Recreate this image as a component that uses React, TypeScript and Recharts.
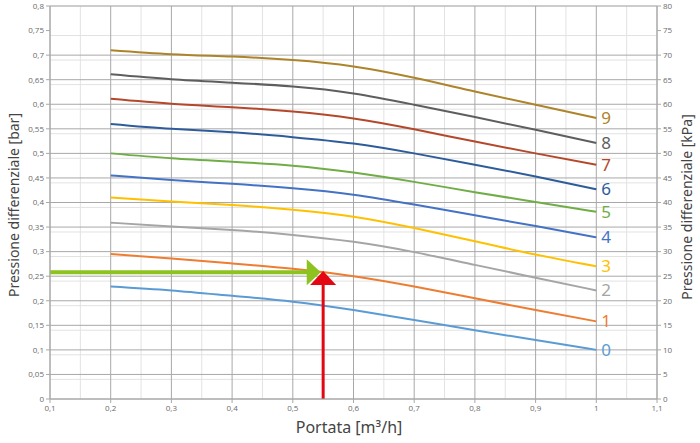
import {
  LineChart,
  Line,
  XAxis,
  YAxis,
  CartesianGrid,
  ReferenceLine,
  ReferenceDot,
} from "recharts";

// portata [m3/h]
const FLOW = [0.2, 0.3, 0.4, 0.5, 0.6, 0.7, 0.8, 0.9, 1.0];

// pressione differenziale [bar] per velocità 0..9
const SPEED_0 = [0.229, 0.221, 0.21, 0.198, 0.181, 0.161, 0.14, 0.12, 0.1];
const SPEED_1 = [0.295, 0.286, 0.276, 0.265, 0.25, 0.229, 0.205, 0.181, 0.158];
const SPEED_2 = [0.359, 0.351, 0.344, 0.334, 0.32, 0.299, 0.273, 0.247, 0.221];
const SPEED_3 = [0.41, 0.402, 0.395, 0.385, 0.371, 0.348, 0.321, 0.294, 0.27];
const SPEED_4 = [0.455, 0.446, 0.438, 0.429, 0.416, 0.396, 0.374, 0.352, 0.329];
const SPEED_5 = [0.5, 0.49, 0.483, 0.475, 0.461, 0.442, 0.421, 0.401, 0.381];
const SPEED_6 = [0.56, 0.55, 0.543, 0.533, 0.52, 0.5, 0.477, 0.453, 0.427];
const SPEED_7 = [0.611, 0.601, 0.594, 0.585, 0.571, 0.549, 0.524, 0.5, 0.477];
const SPEED_8 = [0.661, 0.651, 0.644, 0.636, 0.622, 0.599, 0.574, 0.548, 0.521];
const SPEED_9 = [0.71, 0.702, 0.697, 0.69, 0.677, 0.654, 0.626, 0.599, 0.572];

const SPEED_LABELS = ["0", "1", "2", "3", "4", "5", "6", "7", "8", "9"];
const SPEED_COLORS = [
  "#5B9BD5",
  "#ED7D31",
  "#A5A5A5",
  "#FFC000",
  "#4472C4",
  "#70AD47",
  "#2E5C9A",
  "#B5482A",
  "#5E5E5E",
  "#AD8429",
];
const SPEEDS = [
  SPEED_0, SPEED_1, SPEED_2, SPEED_3, SPEED_4,
  SPEED_5, SPEED_6, SPEED_7, SPEED_8, SPEED_9,
];

// punto di lavoro (esempio)
const WORK_FLOW = 0.55;
const WORK_PRESSURE = 0.258;

const X_TICKS = [0.1, 0.2, 0.3, 0.4, 0.5, 0.6, 0.7, 0.8, 0.9, 1.0, 1.1];
const X_MINOR = [0.15, 0.25, 0.35, 0.45, 0.55, 0.65, 0.75, 0.85, 0.95, 1.05];
const Y_TICKS = [
  0, 0.05, 0.1, 0.15, 0.2, 0.25, 0.3, 0.35, 0.4, 0.45, 0.5, 0.55, 0.6, 0.65,
  0.7, 0.75, 0.8,
];
const KPA_TICKS = [0, 5, 10, 15, 20, 25, 30, 35, 40, 45, 50, 55, 60, 65, 70, 75, 80];

const Y_MINOR: number[] = [];
for (let i = 0; i <= 80; i++) Y_MINOR.push(i / 100);

const chartData = FLOW.map((x, i) => {
  const row: Record<string, number> = { x };
  SPEEDS.forEach((s, k) => {
    row[`s${k}`] = s[i];
  });
  return row;
});

const fmt = (v: number) => String(Math.round(v * 100) / 100).replace(".", ",");

const tickStyle = { fontSize: 8, fill: "#6b6b6b", fontFamily: "Open Sans" };
const titleStyle: React.CSSProperties = {
  position: "absolute",
  fontFamily: "Noto Sans",
  fontSize: 14,
  color: "#444",
  whiteSpace: "nowrap",
};

export default function App() {
  return (
    <div style={{ position: "absolute", left: 0, top: 0, width: 700, height: 443, background: "#fff" }}>
      <LineChart
        width={700}
        height={443}
        data={chartData}
        margin={{ top: 6, right: 0, bottom: 0, left: 0 }}
      >
        <CartesianGrid
          yAxisId="bar"
          stroke="#e2e2e2"
          strokeWidth={1}
          horizontalValues={Y_MINOR}
          verticalValues={X_MINOR}
        />
        <CartesianGrid
          yAxisId="bar"
          stroke="#a8a8a8"
          strokeWidth={1}
          horizontalValues={Y_TICKS}
          verticalValues={X_TICKS}
        />
        <XAxis
          dataKey="x"
          type="number"
          domain={[0.1, 1.1]}
          ticks={X_TICKS}
          tickFormatter={fmt}
          allowDataOverflow
          height={44}
          tick={tickStyle}
          axisLine={{ stroke: "#a8a8a8" }}
          tickLine={{ stroke: "#a8a8a8" }}
          tickSize={4}
        />
        <YAxis
          yAxisId="bar"
          type="number"
          domain={[0, 0.8]}
          ticks={Y_TICKS}
          tickFormatter={fmt}
          allowDataOverflow
          width={50}
          tick={tickStyle}
          axisLine={{ stroke: "#a8a8a8" }}
          tickLine={{ stroke: "#a8a8a8" }}
          tickSize={4}
        />
        <YAxis
          yAxisId="kpa"
          orientation="right"
          type="number"
          domain={[0, 80]}
          ticks={KPA_TICKS}
          allowDataOverflow
          width={43}
          tick={tickStyle}
          axisLine={{ stroke: "#a8a8a8" }}
          tickLine={{ stroke: "#a8a8a8" }}
          tickSize={4}
        />
        {SPEEDS.map((_, k) => (
          <Line
            key={k}
            yAxisId="bar"
            dataKey={`s${k}`}
            type="natural"
            stroke={SPEED_COLORS[k]}
            strokeWidth={2}
            dot={false}
            isAnimationActive={false}
            label={(p: any) =>
              p.index === FLOW.length - 1 ? (
                <text
                  key={`l${k}`}
                  x={p.x + 5}
                  y={p.y + 6}
                  fontSize={17}
                  fontFamily="Noto Sans"
                  fill={SPEED_COLORS[k]}
                >
                  {SPEED_LABELS[k]}
                </text>
              ) : (
                <g key={`l${k}-${p.index}`} />
              )
            }
          />
        ))}
        <ReferenceLine
          yAxisId="bar"
          segment={[
            { x: 0.1, y: WORK_PRESSURE },
            { x: 0.525, y: WORK_PRESSURE },
          ]}
          stroke="#8DC21F"
          strokeWidth={4}
          ifOverflow="visible"
        />
        <ReferenceLine
          yAxisId="bar"
          segment={[
            { x: WORK_FLOW, y: 0 },
            { x: WORK_FLOW, y: 0.235 },
          ]}
          stroke="#E30613"
          strokeWidth={3}
          ifOverflow="visible"
        />
        <ReferenceDot
          yAxisId="bar"
          x={0.523}
          y={WORK_PRESSURE}
          ifOverflow="visible"
          shape={(p: any) => (
            <polygon
              points={`${p.cx},${p.cy - 13} ${p.cx + 14},${p.cy} ${p.cx},${p.cy + 13}`}
              fill="#8DC21F"
            />
          )}
        />
        <ReferenceDot
          yAxisId="bar"
          x={WORK_FLOW}
          y={0.232}
          ifOverflow="visible"
          shape={(p: any) => (
            <polygon
              points={`${p.cx - 13},${p.cy} ${p.cx},${p.cy - 14} ${p.cx + 13},${p.cy}`}
              fill="#E30613"
            />
          )}
        />
      </LineChart>
      <div
        style={{
          ...titleStyle,
          left: 13,
          top: 205,
          transform: "translate(-50%, -50%) rotate(-90deg)",
        }}
      >
        Pressione differenziale [bar]
      </div>
      <div
        style={{
          ...titleStyle,
          left: 686,
          top: 207,
          transform: "translate(-50%, -50%) rotate(-90deg)",
        }}
      >
        Pressione differenziale [kPa]
      </div>
      <div
        style={{
          ...titleStyle,
          left: 349,
          top: 427,
          fontSize: 16,
          transform: "translate(-50%, -50%)",
        }}
      >
        Portata [m³/h]
      </div>
    </div>
  );
}
